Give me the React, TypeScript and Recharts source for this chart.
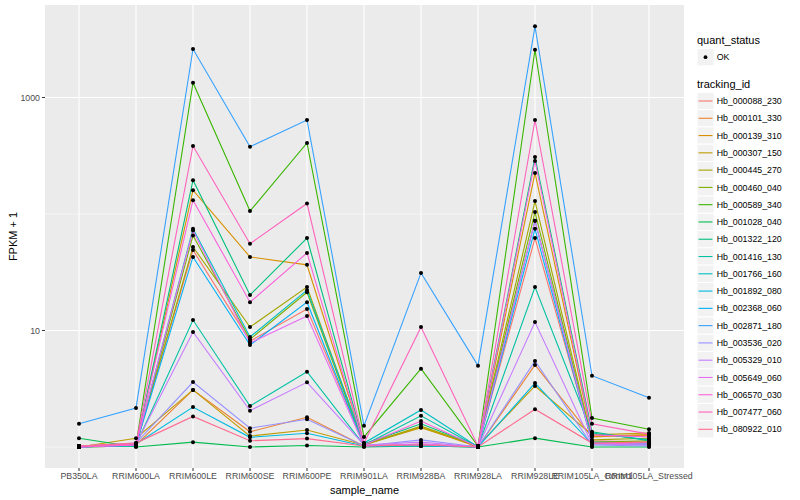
import { LineChart, Line, XAxis, YAxis, CartesianGrid, ReferenceLine, Legend } from 'recharts';

// sample order on the x axis
const categories = [
  'PB350LA', 'RRIM600LA', 'RRIM600LE', 'RRIM600SE', 'RRIM600PE', 'RRIM901LA',
  'RRIM928BA', 'RRIM928LA', 'RRIM928LE', 'RRIM105LA_Control', 'RRIM105LA_Stressed',
];

const trackingIds = [
  'Hb_000088_230', 'Hb_000101_330', 'Hb_000139_310', 'Hb_000307_150', 'Hb_000445_270',
  'Hb_000460_040', 'Hb_000589_340', 'Hb_001028_040', 'Hb_001322_120', 'Hb_001416_130',
  'Hb_001766_160', 'Hb_001892_080', 'Hb_002368_060', 'Hb_002871_180', 'Hb_003536_020',
  'Hb_005329_010', 'Hb_005649_060', 'Hb_006570_030', 'Hb_007477_060', 'Hb_080922_010',
];

// ggplot hue palette, 20 levels
const hueColors = [
  '#F8766D', '#EA8331', '#D89000', '#C09B00', '#A3A500', '#7CAE00', '#39B600', '#00BB4E',
  '#00BF7D', '#00C1A3', '#00BFC4', '#00BAE0', '#00B0F6', '#35A2FF', '#9590FF', '#C77CFF',
  '#E76BF3', '#FA62DB', '#FF62BC', '#FF6C91',
];

// FPKM + 1 per sample (same order as categories)
const hb000088_230 = [1.02, 1.06, 49.0, 8.1, 15.3, 1.04, 1.04, 1.02, 62.1, 1.13, 1.1];
const hb000101_330 = [1.0, 1.04, 3.09, 1.35, 1.8, 1.02, 1.06, 1.0, 5.06, 1.22, 1.27];
const hb000139_310 = [1.0, 1.02, 160, 42.8, 36.6, 1.06, 1.48, 1.0, 225, 1.24, 1.27];
const hb000307_150 = [1.0, 1.19, 3.09, 1.24, 1.4, 1.04, 1.46, 1.02, 3.34, 1.27, 1.32];
const hb000445_270 = [1.02, 1.04, 52.1, 10.7, 23.6, 1.04, 1.51, 1.02, 129, 1.15, 1.19];
const hb000460_040 = [1.0, 1.02, 65.3, 8.4, 21.3, 1.02, 1.02, 1.0, 104, 1.1, 1.13];
const hb000589_340 = [1.02, 1.04, 1340, 106, 407, 1.22, 4.7, 1.02, 2568, 1.77, 1.42];
const hb001028_040 = [1.19, 1.0, 1.1, 1.0, 1.03, 1.0, 1.02, 1.0, 1.19, 1.0, 1.0];
const hb001322_120 = [1.02, 1.02, 195, 20.2, 62.1, 1.06, 1.58, 1.02, 308, 1.35, 1.13];
const hb001416_130 = [1.0, 1.04, 12.3, 2.25, 4.43, 1.04, 1.85, 1.0, 23.6, 1.32, 1.15];
const hb001766_160 = [1.0, 1.02, 74.6, 8.8, 22.2, 1.08, 2.08, 1.0, 87.7, 1.1, 1.08];
const hb001892_080 = [1.0, 1.06, 2.2, 1.21, 1.31, 1.02, 1.04, 1.0, 3.54, 1.06, 1.06];
const hb002368_060 = [1.0, 1.04, 42.8, 7.5, 17.5, 1.02, 1.02, 1.0, 74.6, 1.08, 1.04];
const hb002871_180 = [1.585, 2.16, 2608, 378, 641, 1.52, 31.2, 4.99, 4085, 4.09, 2.65];
const hb003536_020 = [1.02, 1.08, 3.61, 1.45, 1.73, 1.02, 1.15, 1.0, 5.47, 1.04, 1.02];
const hb005329_010 = [1.0, 1.06, 9.7, 2.05, 3.59, 1.04, 1.1, 1.0, 11.8, 1.06, 1.04];
const hb005649_060 = [1.0, 1.04, 72, 7.8, 13.3, 1.02, 1.06, 1.0, 87.7, 1.08, 1.06];
const hb006570_030 = [1.0, 1.04, 131.5, 17.5, 46.3, 1.04, 1.67, 1.0, 285, 1.27, 1.22];
const hb007477_060 = [1.02, 1.06, 384, 55.6, 123, 1.08, 10.7, 1.02, 641, 1.585, 1.29];
const hb080922_010 = [1.02, 1.08, 1.83, 1.13, 1.18, 1.02, 1.04, 1.0, 2.11, 1.08, 1.1];

const seriesValues = [
  hb000088_230, hb000101_330, hb000139_310, hb000307_150, hb000445_270,
  hb000460_040, hb000589_340, hb001028_040, hb001322_120, hb001416_130,
  hb001766_160, hb001892_080, hb002368_060, hb002871_180, hb003536_020,
  hb005329_010, hb005649_060, hb006570_030, hb007477_060, hb080922_010,
];

const yTicks = [10, 1000];
const majorGrid = [10, 1000];
const minorGrid = [1, 100];

const data = categories.map((sample_name, i) => {
  const row: Record<string, string | number> = { sample_name };
  trackingIds.forEach((id, k) => {
    row[id] = seriesValues[k][i];
  });
  return row;
});

const ROW_H = 17.28;

// ggplot style legend: quant_status + tracking_id
function GgLegend() {
  return (
    <svg width={110} height={460} style={{ display: 'block' }}>
      <text x={7} y={44} fontSize={11} fill="#000">quant_status</text>
      <rect x={7} y={48.6} width={17} height={ROW_H} fill="#F2F2F2" stroke="#FFFFFF" />
      <circle cx={15.5} cy={57.2} r={1.9} fill="#000" />
      <text x={26.7} y={60.2} fontSize={8.8} fill="#000">OK</text>
      <text x={7} y={88} fontSize={11} fill="#000">tracking_id</text>
      {trackingIds.map((id, i) => {
        const cy = 101 + i * ROW_H;
        return (
          <g key={id}>
            <rect x={7} y={cy - ROW_H / 2} width={17} height={ROW_H} fill="#F2F2F2" stroke="#FFFFFF" />
            <line x1={8.5} x2={22.5} y1={cy} y2={cy} stroke={hueColors[i]} strokeWidth={1.1} />
            <text x={26.7} y={cy + 3.1} fontSize={8.8} fill="#000">{id}</text>
          </g>
        );
      })}
    </svg>
  );
}

export default function App() {
  return (
    <div
      style={{
        position: 'absolute', left: 0, top: 0, width: 800, height: 500,
        background: '#FFFFFF', fontFamily: '"Liberation Sans", Arial, sans-serif',
      }}
    >
      <LineChart width={800} height={500} data={data} margin={{ top: 5, right: 116, bottom: 0, left: 0 }}>
        <CartesianGrid fill="#EBEBEB" stroke="none" horizontal={false} vertical={false} />
        {minorGrid.map((v) => (
          <ReferenceLine key={`min-${v}`} y={v} stroke="#FFFFFF" strokeWidth={0.55} />
        ))}
        {majorGrid.map((v) => (
          <ReferenceLine key={`maj-${v}`} y={v} stroke="#FFFFFF" strokeWidth={1.07} />
        ))}
        {categories.map((c) => (
          <ReferenceLine key={`v-${c}`} x={c} stroke="#FFFFFF" strokeWidth={1.07} />
        ))}
        <XAxis
          dataKey="sample_name"
          interval={0}
          padding={{ left: 34, right: 35 }}
          height={32}
          tickSize={3}
          tickMargin={2}
          axisLine={false}
          tickLine={{ stroke: '#333333' }}
          tick={{ fill: '#4D4D4D', fontSize: 8.8 }}
          label={{ value: 'sample_name', position: 'insideBottom', offset: 6, fill: '#000', fontSize: 11 }}
        />
        <YAxis
          scale="log"
          domain={[0.66, 6224]}
          allowDataOverflow
          ticks={yTicks}
          tickFormatter={(v: number) => String(v)}
          width={45}
          tickSize={3}
          tickMargin={2}
          axisLine={false}
          tickLine={{ stroke: '#333333' }}
          tick={{ fill: '#4D4D4D', fontSize: 8.8 }}
          label={{
            value: 'FPKM + 1', angle: -90, position: 'insideLeft', offset: 13,
            fill: '#000', fontSize: 11, style: { textAnchor: 'middle' },
          }}
        />
        {trackingIds.map((id, i) => (
          <Line
            key={id}
            dataKey={id}
            stroke={hueColors[i]}
            strokeWidth={1.1}
            dot={false}
            activeDot={false}
            isAnimationActive={false}
            legendType="none"
          />
        ))}
        {/* points go on top of every line, as in ggplot */}
        {trackingIds.map((id) => (
          <Line
            key={`pt-${id}`}
            dataKey={id}
            stroke="none"
            dot={{ r: 2, fill: '#000000', stroke: 'none' }}
            activeDot={false}
            isAnimationActive={false}
            legendType="none"
          />
        ))}
        <Legend
          layout="vertical"
          align="center"
          verticalAlign="middle"
          content={() => <GgLegend />}
          wrapperStyle={{ left: 690, top: 0, width: 110, height: 460 }}
        />
      </LineChart>
    </div>
  );
}
